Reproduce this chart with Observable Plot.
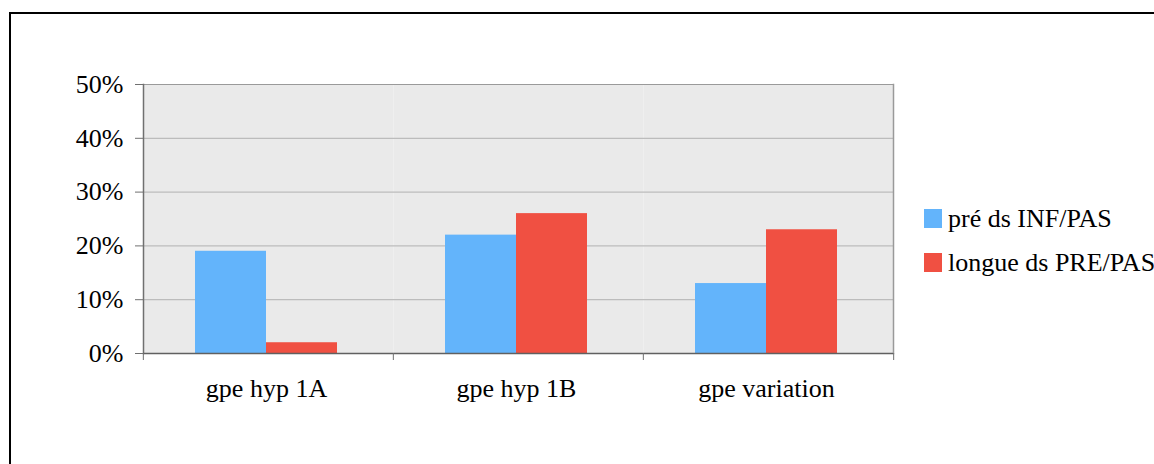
<!DOCTYPE html>
<html>
<head>
<meta charset="utf-8">
<script src="https://cdn.jsdelivr.net/npm/d3@7"></script>
<script src="https://cdn.jsdelivr.net/npm/@observablehq/plot@0.6"></script>
<style>
  html, body { margin: 0; padding: 0; background: #fff; overflow: hidden; }
  #wrap { position: relative; width: 1154px; height: 464px; overflow: hidden; }
  #border { position: absolute; left: 9px; top: 12px; width: 1200px; height: 520px; border: 2px solid #000; box-sizing: border-box; }
  #chart { position: absolute; left: 0; top: 0; }
  #legend { position: absolute; left: 924px; top: 190px; font-family: "Liberation Serif", "Times New Roman", serif; font-size: 26px; color: #000; }
  .item { display: flex; align-items: flex-end; height: 44px; white-space: nowrap; }
  .sw { width: 18px; height: 19px; margin-right: 6px; margin-bottom: 6px; flex: none; }
</style>
</head>
<body>
<div id="wrap">
  <div id="border"></div>
  <div id="chart"></div>
  <div id="legend"></div>
</div>
<script>
const categories = ["gpe hyp 1A", "gpe hyp 1B", "gpe variation"];
const seriesNames = ["pré ds INF/PAS", "longue ds PRE/PAS"];
const preValues = [0.19, 0.22, 0.13];
const longueValues = [0.02, 0.26, 0.23];
const seriesColors = ["#63b4fb", "#f05042"];
const yTicks = [0, 0.1, 0.2, 0.3, 0.4, 0.5];
const gridTicks = [0.1, 0.2, 0.3, 0.4];

const data = categories.flatMap((c, i) => [
  {cat: c, series: seriesNames[0], value: preValues[i]},
  {cat: c, series: seriesNames[1], value: longueValues[i]}
]);

const W = 1154, H = 464, ML = 142, MR = 261, MT = 84, MB = 111;
const step = (W - ML - MR) / categories.length;
const font = "'Liberation Serif', 'Times New Roman', serif";

const chart = Plot.plot({
  width: W, height: H,
  marginLeft: ML, marginRight: MR, marginTop: MT, marginBottom: MB,
  style: {fontFamily: font, fontSize: "26px", color: "#000", background: "transparent"},
  fx: {domain: categories, padding: 0, label: null, axis: null},
  x: {domain: seriesNames, paddingInner: 0, paddingOuter: 0.75, align: 0.485, axis: null},
  y: {domain: [0, 0.5], axis: null},
  color: {domain: seriesNames, range: seriesColors},
  marks: [
    Plot.frame({fill: "#eaeaea", stroke: null}),
    Plot.ruleY(gridTicks, {stroke: "#bcbcbc", strokeWidth: 1.2}),
    Plot.ruleY([0.5], {stroke: "#9a9a9a", strokeWidth: 1.2}),
    Plot.barY(data, {fx: "cat", x: "series", y: "value", fill: "series"}),
    Plot.frame({anchor: "left", facetAnchor: "left", stroke: "#707070", strokeWidth: 1.5}),
    Plot.frame({anchor: "right", facetAnchor: "right", stroke: "#9a9a9a", strokeWidth: 1.5}),
    Plot.ruleY([0], {stroke: "#606060", strokeWidth: 1.6}),
    Plot.axisY({ticks: yTicks, tickFormat: d3.format(".0%"), tickSize: 8, tickPadding: 12,
      fontSize: 26, stroke: "#707070", fill: "#000", label: null}),
    Plot.axisFx({anchor: "bottom", tickSize: 0, tickPadding: 25, fontSize: 26, fill: "#000", dx: -2, label: null}),
    Plot.axisFx({anchor: "bottom", tickSize: 7, fill: "none", stroke: "#707070", dx: -step / 2, label: null}),
    Plot.axisFx({anchor: "bottom", ticks: [categories[categories.length - 1]], tickSize: 7, fill: "none",
      stroke: "#707070", dx: step / 2, label: null})
  ]
});
document.getElementById("chart").appendChild(chart);

const legend = document.getElementById("legend");
seriesNames.forEach((name, i) => {
  const item = document.createElement("div");
  item.className = "item";
  const sw = document.createElement("div");
  sw.className = "sw";
  sw.style.background = seriesColors[i];
  const label = document.createElement("span");
  label.textContent = name;
  item.appendChild(sw);
  item.appendChild(label);
  legend.appendChild(item);
});
</script>
</body>
</html>
